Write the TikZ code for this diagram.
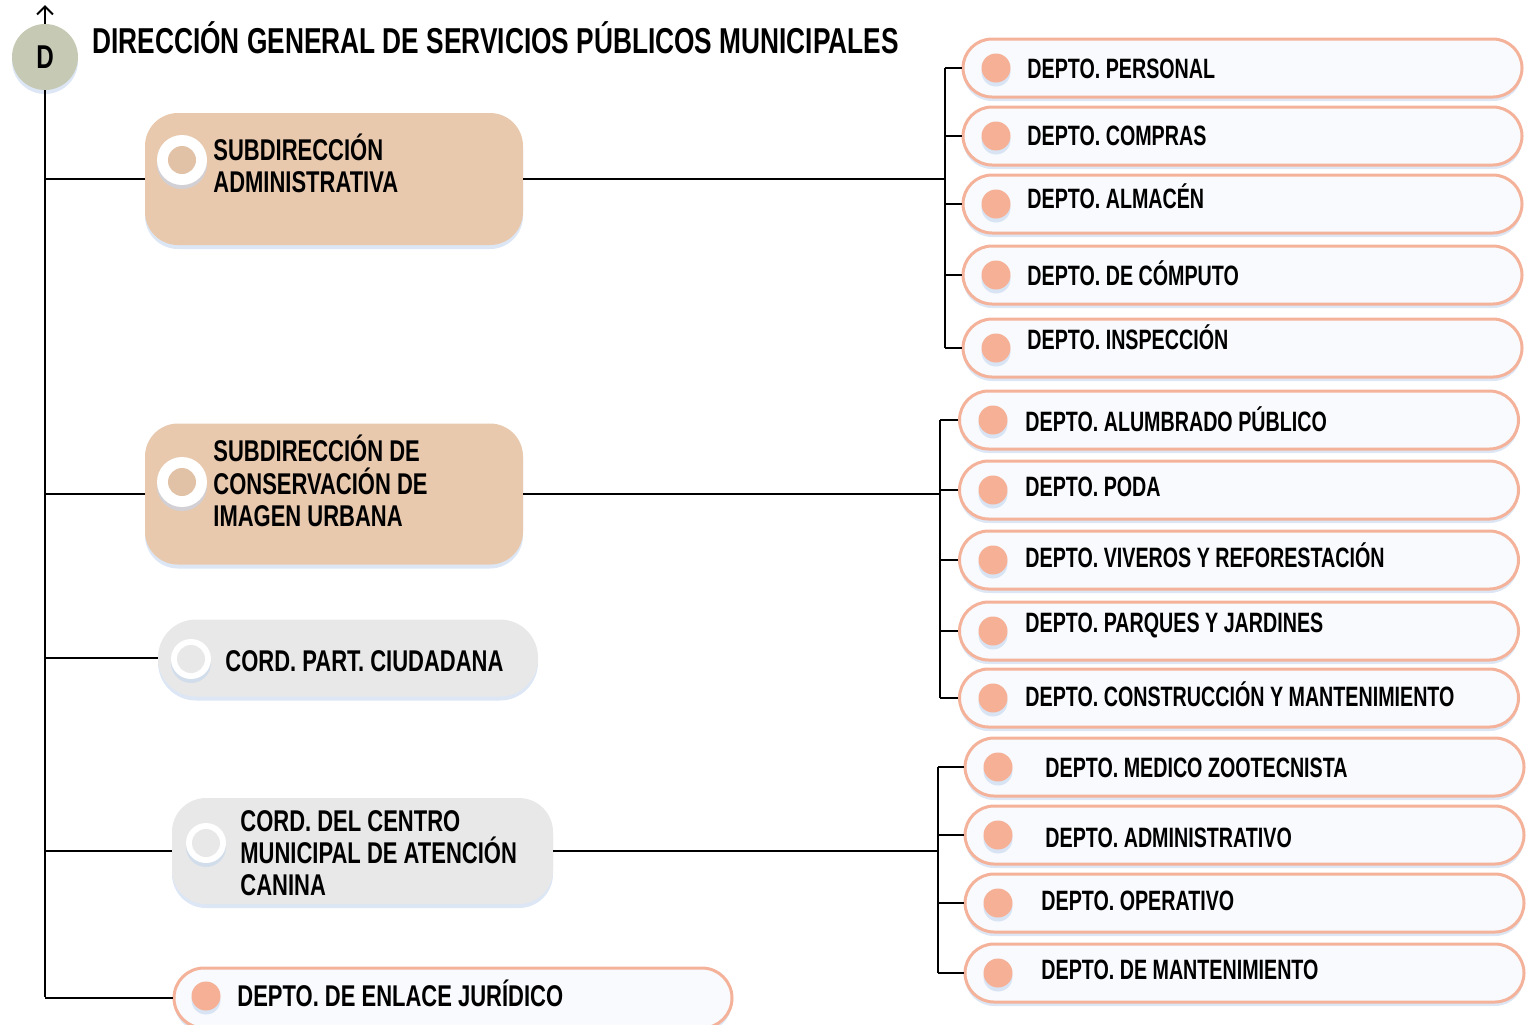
\documentclass[tikz,border=0pt]{standalone}
\usepackage{fontspec}
\setmainfont[FakeStretch=0.72]{Liberation Sans}
\newfontfamily\deptf[FakeStretch=0.703]{Liberation Sans}
\newfontfamily\subf[FakeStretch=0.733]{Liberation Sans}
\newfontfamily\titf[FakeStretch=0.73]{Liberation Sans}
\usetikzlibrary{shadows,arrows.meta}
\definecolor{dfill}{HTML}{C6CAB4}
\definecolor{tanb}{HTML}{E8C9AE}
\definecolor{tanin}{HTML}{E2C2A7}
\definecolor{grayb}{HTML}{E8E8E8}
\definecolor{deptline}{HTML}{F4B29A}
\definecolor{deptfill}{HTML}{F8FAFD}
\definecolor{dotc}{HTML}{F5B096}
\definecolor{shadowb}{HTML}{C4D6EE}
\tikzset{
  shd/.style={drop shadow={shadow xshift=0pt, shadow yshift=-2pt, fill=shadowb, opacity=0.6}},
  dept/.style={draw=deptline, line width=1.5pt, fill=deptfill, rounded corners=14.5pt,
    minimum width=279.5pt, minimum height=29pt, inner sep=0pt, shd},
  dotn/.style={circle, fill=dotc, minimum size=14.5pt, inner sep=0pt, shd},
  lbl/.style={anchor=west, inner sep=0pt, font=\deptf\fontsize{14}{16}\selectfont\bfseries,
    text height=10pt, text depth=0pt},
  slbl/.style={anchor=west, inner sep=0pt, font=\subf\fontsize{15}{17}\selectfont\bfseries,
    text height=10.7pt, text depth=0pt},
  sub/.style={fill=tanb, rounded corners=16.5pt, minimum width=189pt, inner sep=0pt, shd},
  gbox/.style={fill=grayb, inner sep=0pt, minimum width=190pt, shd},
  ring/.style={circle, fill=white, inner sep=0pt, shd},
  conn/.style={line width=1pt, black},
  connb/.style={line width=1.4pt, black},
}
\begin{document}
\begin{tikzpicture}[x=0.5pt,y=-0.5pt]
\useasboundingbox (0,0) rectangle (1530,1024);

% Director
\node[circle, fill=dfill, minimum size=33pt, inner sep=0pt, shd,
  font=\subf\fontsize{16.5}{18}\selectfont\bfseries] (D) at (45,57) {D};
\coordinate (arrtip) at (45,5);
\coordinate (busend) at (45,997);
\node[anchor=west, inner sep=0pt, font=\titf\fontsize{18}{21}\selectfont\bfseries,
  text height=12.9pt, text depth=0pt] (title) at (92,41)
  {DIRECCIÓN GENERAL DE SERVICIOS PÚBLICOS MUNICIPALES};

% Subdirección administrativa
\node[sub, minimum height=66pt] (sa) at (334,179) {};
\node[ring, minimum size=25pt] (saR) at (182,160) {};
\node[circle, fill=tanin, minimum size=14pt, inner sep=0pt] (saRi) at (182,160) {};
\node[slbl] (sa1) at (213,150) {SUBDIRECCIÓN};
\node[slbl] (sa2) at (213,182) {ADMINISTRATIVA};

% Subdirección de conservación
\node[sub, minimum height=70.5pt] (sc) at (334,494) {};
\node[ring, minimum size=25pt] (scR) at (182,482) {};
\node[circle, fill=tanin, minimum size=14pt, inner sep=0pt] (scRi) at (182,482) {};
\node[slbl] (sc1) at (213,451) {SUBDIRECCIÓN DE};
\node[slbl] (sc2) at (213,484) {CONSERVACIÓN DE};
\node[slbl] (sc3) at (213,516) {IMAGEN URBANA};

% Cord. part. ciudadana
\node[gbox, rounded corners=19pt, minimum height=38.5pt] (cp) at (348,658) {};
\node[ring, minimum size=20pt] (cpR) at (191,659) {};
\node[circle, fill=grayb, minimum size=14pt, inner sep=0pt] (cpRi) at (191,659) {};
\node[slbl] (cp1) at (225,661) {CORD. PART. CIUDADANA};

% Cord. centro canino
\node[gbox, rounded corners=17pt, minimum height=53pt, minimum width=190.5pt] (cc) at (362.5,851) {};
\node[ring, minimum size=20pt] (ccR) at (206,843) {};
\node[circle, fill=grayb, minimum size=14pt, inner sep=0pt] (ccRi) at (206,843) {};
\node[slbl] (cc1) at (240,821) {CORD. DEL CENTRO};
\node[slbl] (cc2) at (240,853) {MUNICIPAL DE ATENCIÓN};
\node[slbl] (cc3) at (240,885) {CANINA};

% Depto enlace juridico
\node[dept, minimum width=279pt, minimum height=30pt, rounded corners=15pt] (ej) at (453,998) {};
\node[dotn] (ejD) at (206,996) {};
\node[slbl] (ejT) at (237,996) {DEPTO. DE ENLACE JURÍDICO};

% Group 1
\foreach \n/\y/\ty/\t in {a1/68/68/{DEPTO. PERSONAL},a2/136/135/{DEPTO. COMPRAS},a3/204/198/{DEPTO. ALMACÉN},a4/275/275/{DEPTO. DE CÓMPUTO},a5/348/339/{DEPTO. INSPECCIÓN}}{
  \node[dept] (\n) at (1242.5,\y) {};
  \node[dotn] (\n D) at (996,\y) {};
  \node[lbl] (\n T) at (1027,\ty) {\t};
}
% Group 2
\foreach \n/\y/\ty/\t in {b1/420/421/{DEPTO. ALUMBRADO PÚBLICO},b2/490/486/{DEPTO. PODA},b3/560/557/{DEPTO. VIVEROS Y REFORESTACIÓN},b4/631/622/{DEPTO. PARQUES Y JARDINES},b5/698/696/{DEPTO. CONSTRUCCIÓN Y MANTENIMIENTO}}{
  \node[dept] (\n) at (1239,\y) {};
  \node[dotn] (\n D) at (993,\y) {};
  \node[lbl] (\n T) at (1025,\ty) {\t};
}
% Group 3
\foreach \n/\y/\ty/\tx/\t in {c1/767/767/1045/{DEPTO. MEDICO ZOOTECNISTA},c2/835/837/1045/{DEPTO. ADMINISTRATIVO},c3/903/900/1041/{DEPTO. OPERATIVO},c4/973/969/1041/{DEPTO. DE MANTENIMIENTO}}{
  \node[dept] (\n) at (1244.5,\y) {};
  \node[dotn] (\n D) at (998,\y) {};
  \node[lbl] (\n T) at (\tx,\ty) {\t};
}

% Connectors: main bus
\draw[conn, -{Straight Barb[length=4pt,width=8pt]}] (D.north) -- (arrtip);
\draw[conn] (D.south) -- (busend);
\foreach \n in {sa,sc,cp,cc,ej}{
  \draw[conn] (\n.west -| D) -- (\n.west);
}

% Group buses
\coordinate (g1) at (945,179);
\coordinate (g2) at (940,494);
\coordinate (g3) at (938,851);
\draw[connb] (sa.east) -- (g1);
\draw[connb] (sc.east) -- (g2);
\draw[conn] (cc.east) -- (g3);
\draw[conn] (a1.west -| g1) -- (a5.west -| g1);
\draw[conn] (b1.west -| g2) -- (b5.west -| g2);
\draw[conn] (c1.west -| g3) -- (c4.west -| g3);
\foreach \n in {a1,a2,a3,a4,a5}{\draw[conn] (\n.west -| g1) -- (\n.west);}
\foreach \n in {b1,b2,b3,b4,b5}{\draw[conn] (\n.west -| g2) -- (\n.west);}
\foreach \n in {c1,c2,c3,c4}{\draw[conn] (\n.west -| g3) -- (\n.west);}
\end{tikzpicture}
\end{document}
